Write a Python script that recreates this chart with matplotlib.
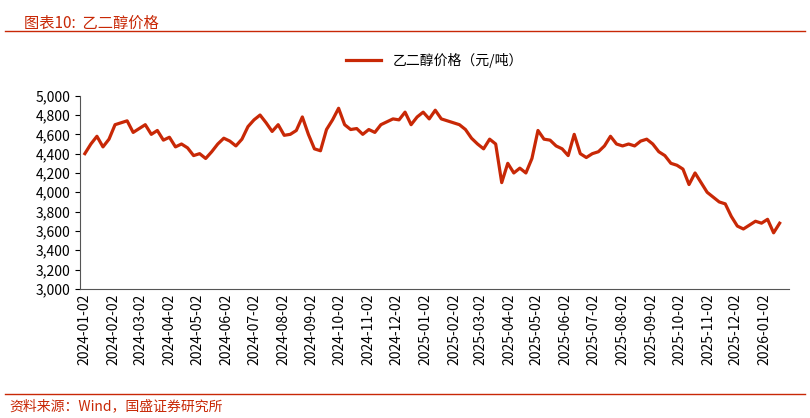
import numpy as np
import pandas as pd
import matplotlib
matplotlib.use("Agg")
import matplotlib.pyplot as plt
import matplotlib.dates as mdates

plt.rcParams['font.family'] = ['Noto Sans CJK SC', 'DejaVu Sans']

RED = "#c82806"

# weekly readings, 2024-01 .. 2026-01
prices = [
    4400, 4500, 4580, 4470, 4550,
    4700, 4720, 4740, 4620,
    4660, 4700, 4600, 4640, 4540,
    4570, 4470, 4500, 4460,
    4380, 4400, 4350, 4420,
    4500, 4560, 4530, 4480, 4550,
    4680, 4750, 4800, 4720,
    4630, 4700, 4590, 4600,
    4640, 4780, 4600, 4450, 4430,
    4650, 4750, 4870, 4700,
    4650, 4660, 4600, 4650, 4620,
    4700, 4730, 4760, 4750, 4830,
    4700, 4780, 4830, 4760,
    4850, 4760, 4740, 4720,
    4700, 4650, 4560, 4500, 4450,
    4550, 4500, 4100, 4300, 4200,
    4250, 4200, 4350, 4640, 4550,
    4540, 4480, 4450, 4380, 4600,
    4400, 4360, 4400, 4420, 4480,
    4580, 4500, 4480, 4500,
    4480, 4530, 4550, 4500, 4420,
    4380, 4300, 4280, 4240, 4080,
    4200, 4100, 4000, 3950, 3900,
    3880, 3750, 3650, 3620, 3660,
    3700, 3680, 3720, 3580, 3680,
]
dates = pd.date_range("2024-01-02", "2026-01-18", periods=len(prices))
tick_dates = pd.date_range("2024-01-01", "2026-01-01", freq="MS") + pd.Timedelta(days=1)

fig = plt.figure(figsize=(8.1, 4.18), dpi=100)
fig.text(0.03, 0.965, "图表10:  乙二醇价格", color=RED, fontsize=11, va="top",
         style="italic")
fig.add_artist(plt.Line2D([0.006, 0.994], [0.927, 0.927], color=RED, lw=1,
                          transform=fig.transFigure))
fig.add_artist(plt.Line2D([0.006, 0.994], [0.058, 0.058], color=RED, lw=1,
                          transform=fig.transFigure))
fig.text(0.012, 0.045, "资料来源：Wind，国盛证券研究所", color=RED, fontsize=10,
         va="top", style="italic")

ax = fig.add_axes([0.099, 0.309, 0.875, 0.462])
ax.plot(dates, prices, color=RED, lw=2.3, label="乙二醇价格（元/吨）")
ax.set_ylim(3000, 5000)
ax.set_yticks(np.arange(3000, 5001, 200))
ax.yaxis.set_major_formatter(matplotlib.ticker.StrMethodFormatter("{x:,.0f}"))
ax.set_xlim(pd.Timestamp("2023-12-28"), pd.Timestamp("2026-01-28"))
ax.set_xticks(tick_dates)
ax.xaxis.set_major_formatter(mdates.DateFormatter("%Y-%m-%d"))
ax.tick_params(axis="x", rotation=90, labelsize=10, length=0)
ax.tick_params(axis="y", labelsize=10, direction="out")
for s in ("top", "right"):
    ax.spines[s].set_visible(False)
for s in ("left", "bottom"):
    ax.spines[s].set_color("#555555")
ax.legend(loc="lower center", bbox_to_anchor=(0.5, 1.08), frameon=False,
          fontsize=10, handlelength=2.5)

fig.savefig("out.png", dpi=100)
